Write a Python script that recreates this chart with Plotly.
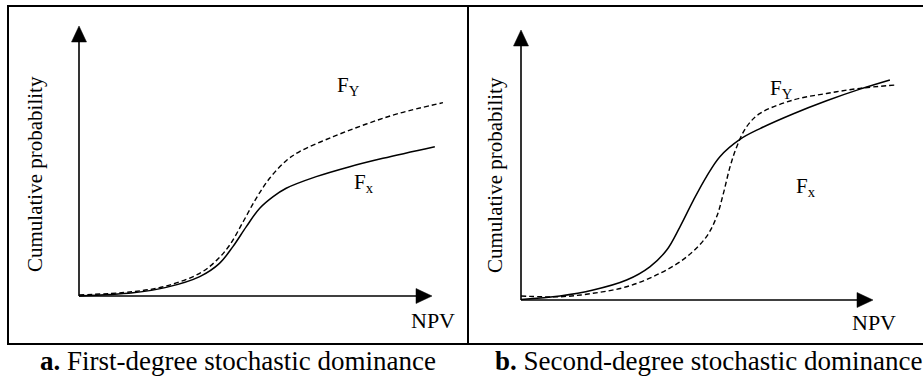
import plotly.graph_objects as go

W, H = 923, 377

# ---- data: cumulative distribution curves (NPV on x, probability on y, both scaled 0..1 to the axis arrows)
fsd_x_npv = [0.00, 0.153, 0.247, 0.342, 0.398, 0.436, 0.474, 0.512, 0.550, 0.587, 0.672, 0.767, 0.861, 1.008]
fsd_x_cdf = [0.000, 0.012, 0.032, 0.072, 0.121, 0.183, 0.257, 0.325, 0.368, 0.399, 0.442, 0.479, 0.510, 0.553]
fsd_y_npv = [0.00, 0.153, 0.247, 0.342, 0.389, 0.427, 0.465, 0.502, 0.540, 0.587, 0.625, 0.720, 0.814, 0.908, 1.031]
fsd_y_cdf = [0.004, 0.016, 0.037, 0.084, 0.131, 0.189, 0.275, 0.362, 0.436, 0.501, 0.535, 0.590, 0.637, 0.677, 0.716]

ssd_x_npv = [0.00, 0.111, 0.205, 0.300, 0.366, 0.414, 0.452, 0.490, 0.527, 0.565, 0.622, 0.679, 0.774, 0.868, 0.963, 1.048]
ssd_x_cdf = [0.002, 0.015, 0.037, 0.074, 0.123, 0.185, 0.272, 0.370, 0.457, 0.531, 0.595, 0.635, 0.690, 0.738, 0.781, 0.815]
ssd_y_npv = [0.00, 0.111, 0.205, 0.300, 0.395, 0.471, 0.527, 0.556, 0.575, 0.594, 0.613, 0.641, 0.679, 0.774, 0.868, 0.963, 1.063]
ssd_y_cdf = [0.015, 0.012, 0.025, 0.049, 0.099, 0.160, 0.235, 0.309, 0.395, 0.494, 0.568, 0.642, 0.691, 0.741, 0.765, 0.784, 0.796]

captions = ["<b>a.</b> First-degree stochastic dominance",
            "<b>b.</b> Second-degree stochastic dominance"]
y_title = "Cumulative probability"
x_title = "NPV"
label_fy = "F<sub>Y</sub>"
label_fx = "F<sub>x</sub>"

FONT = "Liberation Serif"


def px(x):
    return x / W


def py(y):
    return 1 - y / H


fig = go.Figure()

# panel geometry: box edges, axis origin and arrow lengths in pixels
panels = [
    dict(box=(8, 468), origin=(79, 296), xlen=353, ylen=270,
         cx=fsd_x_npv, cy=fsd_x_cdf, dx=fsd_y_npv, dy=fsd_y_cdf,
         ylab=(35, 174), npv=(433, 320), fy=(348, 86), fx=(364, 183), cap=(238, 361)),
    dict(box=(468, 923), origin=(521, 300), xlen=352, ylen=270,
         cx=ssd_x_npv, cy=ssd_x_cdf, dx=ssd_y_npv, dy=ssd_y_cdf,
         ylab=(495, 175), npv=(874, 322), fy=(781, 89), fx=(806, 187), cap=(708, 361)),
]
top_px, bot_px = 6, 344

shapes = []
annotations = []
for i, p in enumerate(panels):
    sfx = "" if i == 0 else str(i + 1)
    xa, ya = "x" + sfx, "y" + sfx
    ox, oy = p["origin"]
    bl, br = p["box"]
    xr = [(bl - ox) / p["xlen"], (br - ox) / p["xlen"]]
    yr = [(oy - bot_px) / p["ylen"], (oy - top_px) / p["ylen"]]
    axis_common = dict(visible=False, fixedrange=True)
    fig.update_layout(**{
        "xaxis" + sfx: dict(domain=[px(bl), px(br)], range=xr, anchor=ya, **axis_common),
        "yaxis" + sfx: dict(domain=[py(bot_px), py(top_px)], range=yr, anchor=xa, **axis_common),
    })

    # distribution curves
    fig.add_trace(go.Scatter(x=p["cx"], y=p["cy"], mode="lines", xaxis=xa, yaxis=ya,
                             line=dict(color="black", width=1.5, shape="spline", smoothing=1.0),
                             showlegend=False, hoverinfo="skip"))
    fig.add_trace(go.Scatter(x=p["dx"], y=p["dy"], mode="lines", xaxis=xa, yaxis=ya,
                             line=dict(color="black", width=1.4, shape="spline", smoothing=1.0,
                                       dash="5px,3px"),
                             showlegend=False, hoverinfo="skip"))

    # axis lines with filled arrowheads
    ah_len_x = 16 / p["xlen"]
    ah_len_y = 16 / p["ylen"]
    ah_hw_x = 7.5 / p["xlen"]
    ah_hw_y = 7.5 / p["ylen"]
    shapes += [
        dict(type="line", xref=xa, yref=ya, x0=0, y0=0, x1=1 - ah_len_x, y1=0,
             line=dict(color="black", width=1.6)),
        dict(type="line", xref=xa, yref=ya, x0=0, y0=0, x1=0, y1=1 - ah_len_y,
             line=dict(color="black", width=1.6)),
        dict(type="path", xref=xa, yref=ya,
             path=f"M 1 0 L {1 - ah_len_x} {ah_hw_y} L {1 - ah_len_x} {-ah_hw_y} Z",
             fillcolor="black", line=dict(color="black", width=0.5)),
        dict(type="path", xref=xa, yref=ya,
             path=f"M 0 1 L {-ah_hw_x} {1 - ah_len_y} L {ah_hw_x} {1 - ah_len_y} Z",
             fillcolor="black", line=dict(color="black", width=0.5)),
    ]

    # text labels
    def note(text, pos, size, **kw):
        annotations.append(dict(text=text, x=px(pos[0]), y=py(pos[1]), xref="paper", yref="paper",
                                xanchor="center", yanchor="middle", showarrow=False,
                                font=dict(family=FONT, size=size, color="black"), **kw))

    note(y_title, p["ylab"], 21, textangle=-90)
    note(x_title, p["npv"], 22)
    note(label_fy, p["fy"], 21)
    note(label_fx, p["fx"], 21)
    note(captions[i], p["cap"], 27)

# panel frames: top, bottom, left edge and divider
shapes += [
    dict(type="line", xref="paper", yref="paper", x0=px(7), x1=1, y0=py(top_px), y1=py(top_px),
         line=dict(color="black", width=2)),
    dict(type="line", xref="paper", yref="paper", x0=px(7), x1=1, y0=py(bot_px), y1=py(bot_px),
         line=dict(color="black", width=2)),
    dict(type="line", xref="paper", yref="paper", x0=px(8), x1=px(8), y0=py(top_px), y1=py(bot_px),
         line=dict(color="black", width=2)),
    dict(type="line", xref="paper", yref="paper", x0=px(468), x1=px(468), y0=py(top_px), y1=py(bot_px),
         line=dict(color="black", width=2)),
]

fig.update_layout(width=W, height=H, margin=dict(l=0, r=0, t=0, b=0),
                  font=dict(family=FONT, color="black"),
                  paper_bgcolor="white", plot_bgcolor="rgba(0,0,0,0)",
                  shapes=shapes, annotations=annotations, showlegend=False)

fig.write_html("out.html", config={"displayModeBar": False})
